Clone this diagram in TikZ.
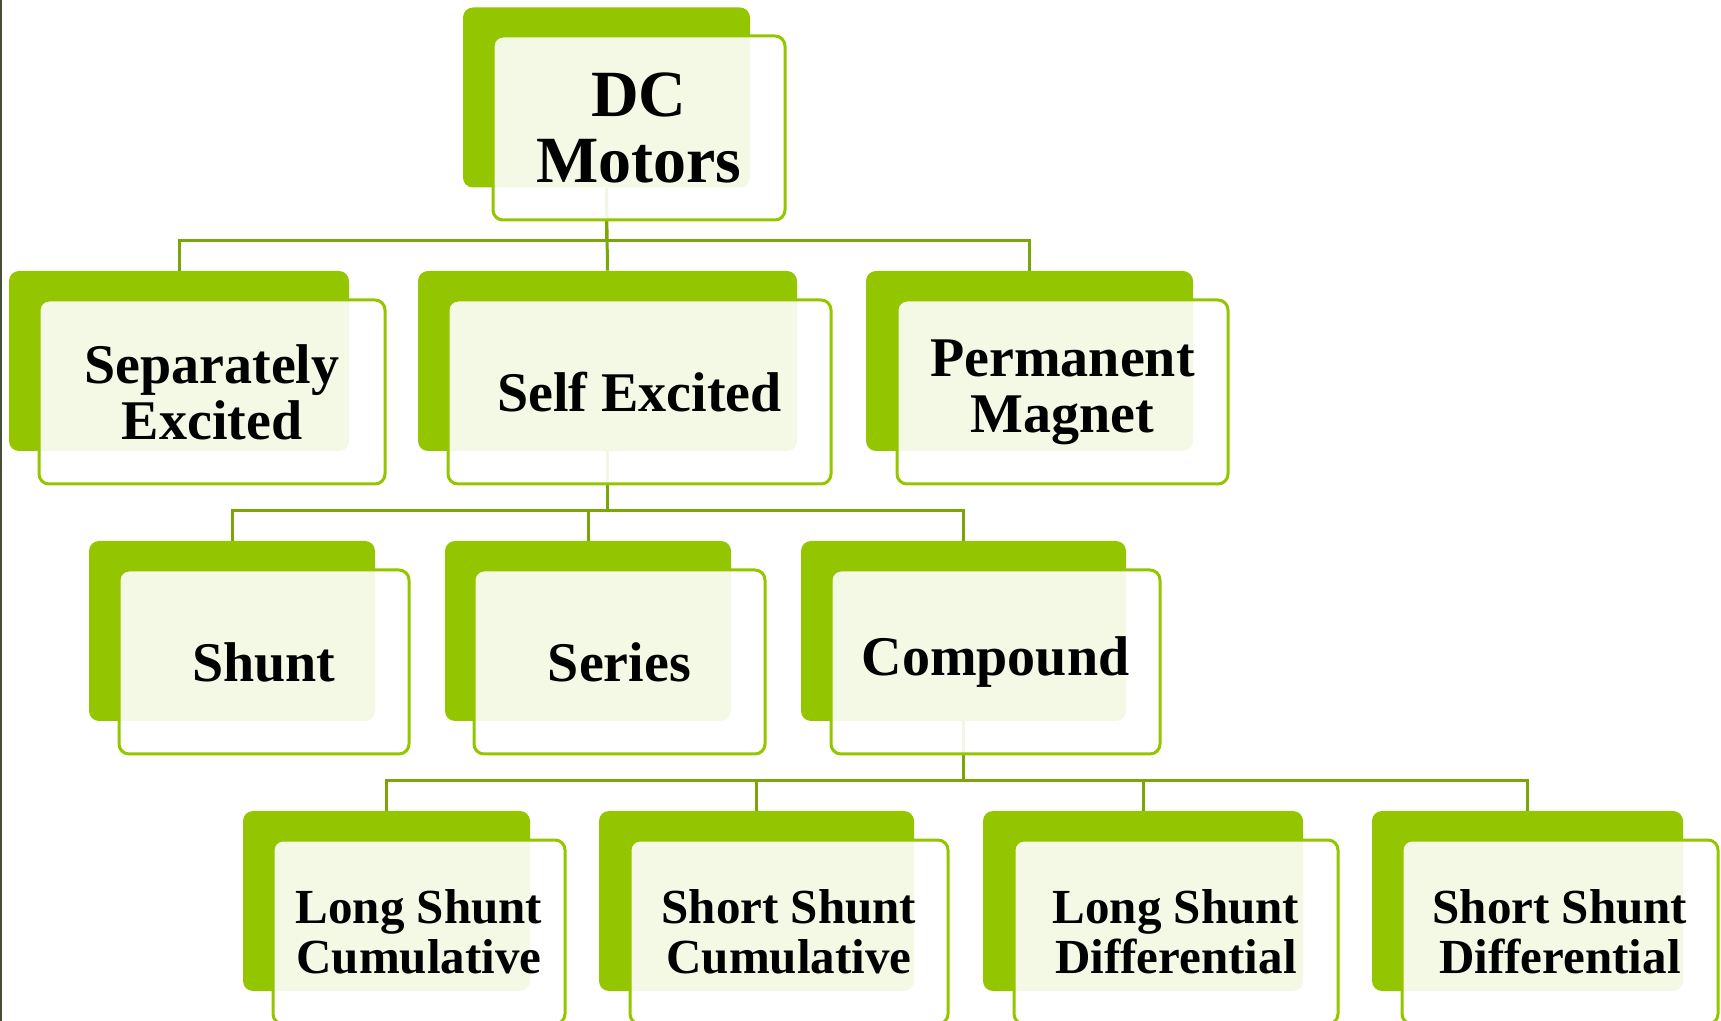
\documentclass[tikz,border=0pt]{standalone}
\usepackage{fontspec}
\setmainfont{Liberation Serif}

\definecolor{leafgreen}{RGB}{148,198,0}
\definecolor{stemgreen}{RGB}{122,166,8}
\definecolor{slideedge}{RGB}{70,78,56}

\tikzset{
  backbox/.style={rounded corners=5pt, fill=leafgreen, minimum height=90pt, inner sep=0pt},
  frontbox/.style={rounded corners=5pt, draw=leafgreen, line width=1.5pt, fill=white,
    fill opacity=0.9, text opacity=1, minimum height=92pt, inner sep=0pt, align=center,
    font=\fontsize{28}{28}\selectfont\bfseries},
  leafbox/.style={frontbox, font=\fontsize{24.5}{25}\selectfont\bfseries},
  stem/.style={draw=stemgreen, line width=1.5pt}
}

\begin{document}
\begin{tikzpicture}[x=0.5pt,y=-0.5pt]
  \useasboundingbox (0,0) rectangle (1721,1021);
  \draw [slideedge, line width=1pt] (1,0) -- (1,1021);
  % green backs
  \node [backbox, minimum width=143.5pt] (dc) at (606.5,97.5) {};
  \node [backbox, minimum width=170pt] (sep) at (179,361) {};
  \node [backbox, minimum width=189.5pt] (self) at (607.5,361) {};
  \node [backbox, minimum width=163.5pt] (perm) at (1029.5,361) {};
  \node [backbox, minimum width=143pt] (shunt) at (232,631) {};
  \node [backbox, minimum width=143pt] (series) at (588,631) {};
  \node [backbox, minimum width=162.5pt] (comp) at (963.5,631) {};
  \node [backbox, minimum width=143.5pt] (lsc) at (386.5,901) {};
  \node [backbox, minimum width=157.5pt] (ssc) at (756.5,901) {};
  \node [backbox, minimum width=160pt] (lsd) at (1143,901) {};
  \node [backbox, minimum width=155.5pt] (ssd) at (1527.5,901) {};
  % bus lines
  \coordinate (bus1) at (0,241);
  \coordinate (bus2) at (0,511);
  \coordinate (bus3) at (0,781);
  \draw [stem] (dc.south) |- (bus1 -| sep) -- (sep.north);
  \draw [stem] (dc.south) -- (self.north);
  \draw [stem] (dc.south) |- (bus1 -| perm) -- (perm.north);
  \draw [stem] (self.south) |- (bus2 -| shunt) -- (shunt.north);
  \draw [stem] (self.south) |- (bus2 -| series) -- (series.north);
  \draw [stem] (self.south) |- (bus2 -| comp) -- (comp.north);
  \draw [stem] (comp.south) |- (bus3 -| lsc) -- (lsc.north);
  \draw [stem] (comp.south) |- (bus3 -| ssc) -- (ssc.north);
  \draw [stem] (comp.south) |- (bus3 -| lsd) -- (lsd.north);
  \draw [stem] (comp.south) |- (bus3 -| ssd) -- (ssd.north);
  % light fronts with labels
  \node [frontbox, minimum width=146pt, font=\fontsize{33}{33}\selectfont\bfseries]
    (dcf) at ([shift={(32.5,30.5)}]dc.center) {DC\\Motors};
  \node [frontbox, minimum width=173pt] (sepf) at ([shift={(33,31)}]sep.center) {Separately\\Excited};
  \node [frontbox, minimum width=191.5pt] (selff) at ([shift={(32,31)}]self.center) {Self Excited};
  \node [frontbox, minimum width=165.5pt] (permf) at ([shift={(33,31)}]perm.center) {Permanent\\Magnet\vphantom{y}};
  \node [frontbox, minimum width=145pt] (shuntf) at ([shift={(32,31)}]shunt.center) {Shunt};
  \node [frontbox, minimum width=145.5pt] (seriesf) at ([shift={(31.5,31)}]series.center) {Series};
  \node [frontbox, minimum width=164.5pt] (compf) at ([shift={(32,31)}]comp.center) {Compound};
  \node [leafbox, minimum width=146pt] (lscf) at ([shift={(32.5,31)}]lsc.center) {Long Shunt\\Cumulative};
  \node [leafbox, minimum width=159pt] (sscf) at ([shift={(32.5,31)}]ssc.center) {Short Shunt\\Cumulative};
  \node [leafbox, minimum width=162pt] (lsdf) at ([shift={(33,31)}]lsd.center) {Long Shunt\\Differential};
  \node [leafbox, minimum width=158pt] (ssdf) at ([shift={(32.5,31)}]ssd.center) {Short Shunt\\Differential};
\end{tikzpicture}
\end{document}
